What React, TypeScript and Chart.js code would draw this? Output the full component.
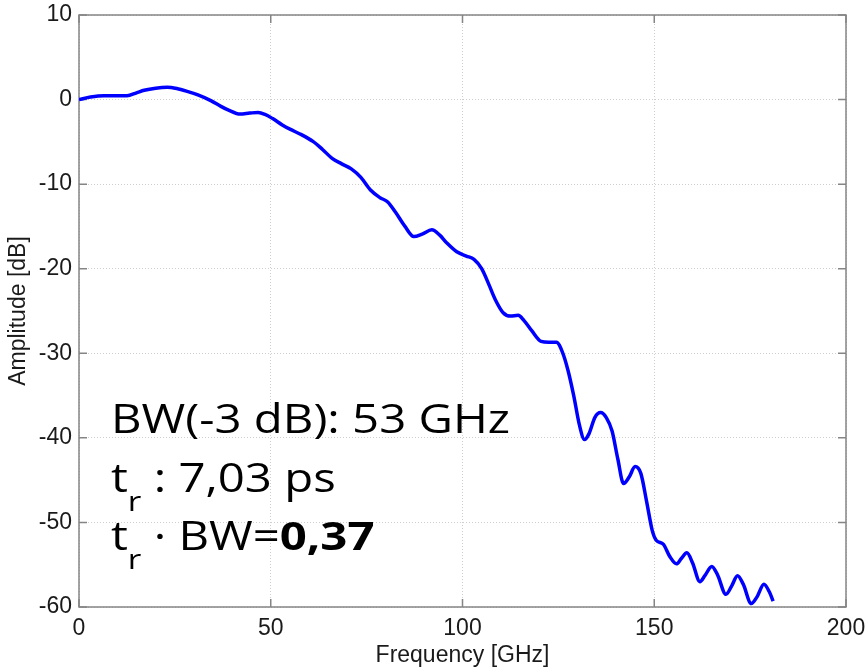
import React, { useEffect, useRef } from "react";
import { Chart, registerables } from "chart.js";

Chart.register(...registerables);

// Measured frequency response of the link
const freqGHz = [
  0, 3, 6.5, 9.5, 12.5, 15, 17, 20, 23, 25.5, 28, 31, 34.5, 37, 39, 42, 44.5, 46.7, 48.5, 50.5,
  53, 55, 58, 61, 63.5, 66, 68.5, 71, 73.5, 76, 78.5, 80.5, 82.5, 85, 87.3, 89.5, 92, 94, 96, 98.5,
  101, 103, 105, 107, 108.5, 110.6, 112.5, 114.5, 116, 118, 120.5, 122.5, 124.5, 126, 127.5, 129,
  130.5, 131.8, 133, 134.5, 136, 137.5, 139, 140.5, 142, 143.5, 145, 146.5, 148, 149.5, 150.5,
  152.4, 154, 155.8, 157, 158.5, 160, 161.9, 163.2, 165, 166.5, 168.7, 170.2, 171.7, 173.2, 175.3,
  176.8, 178.6, 180, 181,
];
const amplitudeDb = [
  0, 0.3, 0.46, 0.45, 0.45, 0.8, 1.1, 1.35, 1.45, 1.3, 1.0, 0.55, -0.15, -0.8, -1.25, -1.72, -1.6,
  -1.52, -1.75, -2.25, -3.0, -3.5, -4.15, -4.95, -5.9, -6.95, -7.6, -8.2, -9.2, -10.7, -11.6, -12.1,
  -13.3, -15.0, -16.2, -15.9, -15.4, -16.0, -17.0, -18.0, -18.5, -18.9, -20.0, -22.0, -23.6, -25.2,
  -25.6, -25.5, -26.1, -27.3, -28.6, -28.7, -28.7, -29.8, -32.0, -35.0, -38.5, -40.2, -39.5, -37.6,
  -37.0, -37.6, -39.2, -42.5, -45.4, -44.6, -43.4, -44.2, -47.5, -51.0, -52.1, -52.6, -54.0, -54.9,
  -54.3, -53.6, -54.8, -57.0, -56.3, -55.2, -56.2, -58.5, -57.5, -56.3, -57.3, -59.6, -58.8, -57.3,
  -58.2, -59.3,
];

const xTicks = [0, 50, 100, 150, 200];
const yTicks = [10, 0, -10, -20, -30, -40, -50, -60];

const xTitle = "Frequency [GHz]";
const yTitle = "Amplitude [dB]";
const bandwidthLine = "BW(-3 dB): 53 GHz";
const riseTimeValue = " : 7,03 ps";
const productPrefix = " \u00b7 BW=";
const productValue = "0,37";

const axisFont = "'Liberation Sans', Arial, Helvetica, sans-serif";
const noteFont = "'Open Sans', 'Noto Sans', sans-serif";

// MATLAB-like frame: gray box with short inward ticks on all four sides
const framePlugin = {
  id: "frame",
  beforeDatasetsDraw(chart: any) {
    const { ctx, chartArea: a, scales } = chart;
    const tick = 8;
    ctx.save();
    ctx.strokeStyle = "#858585";
    ctx.lineWidth = 1.5;
    ctx.beginPath();
    for (const v of xTicks) {
      const px = scales.x.getPixelForValue(v);
      ctx.moveTo(px, a.bottom);
      ctx.lineTo(px, a.bottom - tick);
      ctx.moveTo(px, a.top);
      ctx.lineTo(px, a.top + tick);
    }
    for (const v of yTicks) {
      const py = scales.y.getPixelForValue(v);
      ctx.moveTo(a.left, py);
      ctx.lineTo(a.left + tick, py);
      ctx.moveTo(a.right, py);
      ctx.lineTo(a.right - tick, py);
    }
    ctx.stroke();
    ctx.strokeRect(a.left, a.top, a.right - a.left, a.bottom - a.top);
    ctx.restore();
  },
};

// Bandwidth / rise-time annotation in the lower left of the plot,
// set in a wide face (horizontally stretched to the first line's width)
const notePlugin = {
  id: "note",
  afterDraw(chart: any) {
    const { ctx } = chart;
    const size = 40;
    const subSize = 28;
    const x0 = 111;
    const lineWidth = 399;
    const base = [433, 492, 550];
    ctx.save();
    ctx.fillStyle = "#000";
    ctx.textAlign = "left";
    ctx.textBaseline = "alphabetic";
    ctx.font = `${size}px ${noteFont}`;
    const sx = lineWidth / ctx.measureText(bandwidthLine).width;
    ctx.translate(x0, 0);
    ctx.scale(sx, 1);
    ctx.fillText(bandwidthLine, 0, base[0]);

    const drawT = (y: number) => {
      ctx.font = `${size}px ${noteFont}`;
      ctx.fillText("t", 0, y);
      let x = ctx.measureText("t").width;
      ctx.font = `${subSize}px ${noteFont}`;
      ctx.fillText("r", x, y + 19);
      x += ctx.measureText("r").width;
      return x;
    };

    let x = drawT(base[1]);
    ctx.font = `${size}px ${noteFont}`;
    ctx.fillText(riseTimeValue, x, base[1]);

    x = drawT(base[2]);
    ctx.font = `${size}px ${noteFont}`;
    ctx.fillText(productPrefix, x, base[2]);
    x += ctx.measureText(productPrefix).width;
    ctx.font = `bold ${size}px ${noteFont}`;
    ctx.fillText(productValue, x, base[2]);
    ctx.restore();
  },
};

export default function App() {
  const canvasRef = useRef<HTMLCanvasElement | null>(null);

  useEffect(() => {
    if (!canvasRef.current) return;
    const points = freqGHz.map((f, i) => ({ x: f, y: amplitudeDb[i] }));
    const chart = new Chart(canvasRef.current, {
      type: "line",
      data: {
        datasets: [
          {
            data: points,
            borderColor: "#0000ff",
            borderWidth: 3.5,
            pointRadius: 0,
            fill: false,
            cubicInterpolationMode: "monotone",
          },
        ],
      },
      options: {
        animation: false,
        responsive: false,
        devicePixelRatio: 1,
        layout: { padding: { left: 0, top: 15, right: 21, bottom: 0 } },
        plugins: { legend: { display: false }, tooltip: { enabled: false } },
        scales: {
          x: {
            type: "linear",
            min: 0,
            max: 200,
            afterFit: (s: any) => {
              s.height = 60;
              s.paddingLeft = 0;
              s.paddingRight = 0;
            },
            afterBuildTicks: (s: any) => {
              s.ticks = xTicks.map((v) => ({ value: v }));
            },
            ticks: {
              color: "#1a1a1a",
              font: { family: axisFont, size: 23 },
              padding: 8,
              maxRotation: 0,
            },
            grid: { color: "#cfcfcf", lineWidth: 1, drawTicks: false },
            border: { display: false, dash: [1, 2] },
            title: {
              display: true,
              text: xTitle,
              color: "#1a1a1a",
              font: { family: axisFont, size: 23, lineHeight: 1 },
              padding: { top: 0, bottom: 0 },
            },
          },
          y: {
            type: "linear",
            min: -60,
            max: 10,
            afterFit: (s: any) => {
              s.width = 79;
              s.paddingTop = 0;
              s.paddingBottom = 0;
            },
            afterBuildTicks: (s: any) => {
              s.ticks = yTicks.map((v) => ({ value: v }));
            },
            ticks: {
              color: "#1a1a1a",
              font: { family: axisFont, size: 23 },
              padding: 7,
            },
            grid: { color: "#cfcfcf", lineWidth: 1, drawTicks: false },
            border: { display: false, dash: [1, 2] },
            title: {
              display: true,
              text: yTitle,
              color: "#1a1a1a",
              font: { family: axisFont, size: 23 },
              padding: { top: 5, bottom: 0 },
            },
          },
        },
      },
      plugins: [framePlugin, notePlugin],
    } as any);
    return () => chart.destroy();
  }, []);

  return (
    <div style={{ position: "absolute", left: 0, top: 0, width: 867, height: 667, background: "#fff" }}>
      <canvas ref={canvasRef} width={867} height={667} />
    </div>
  );
}
